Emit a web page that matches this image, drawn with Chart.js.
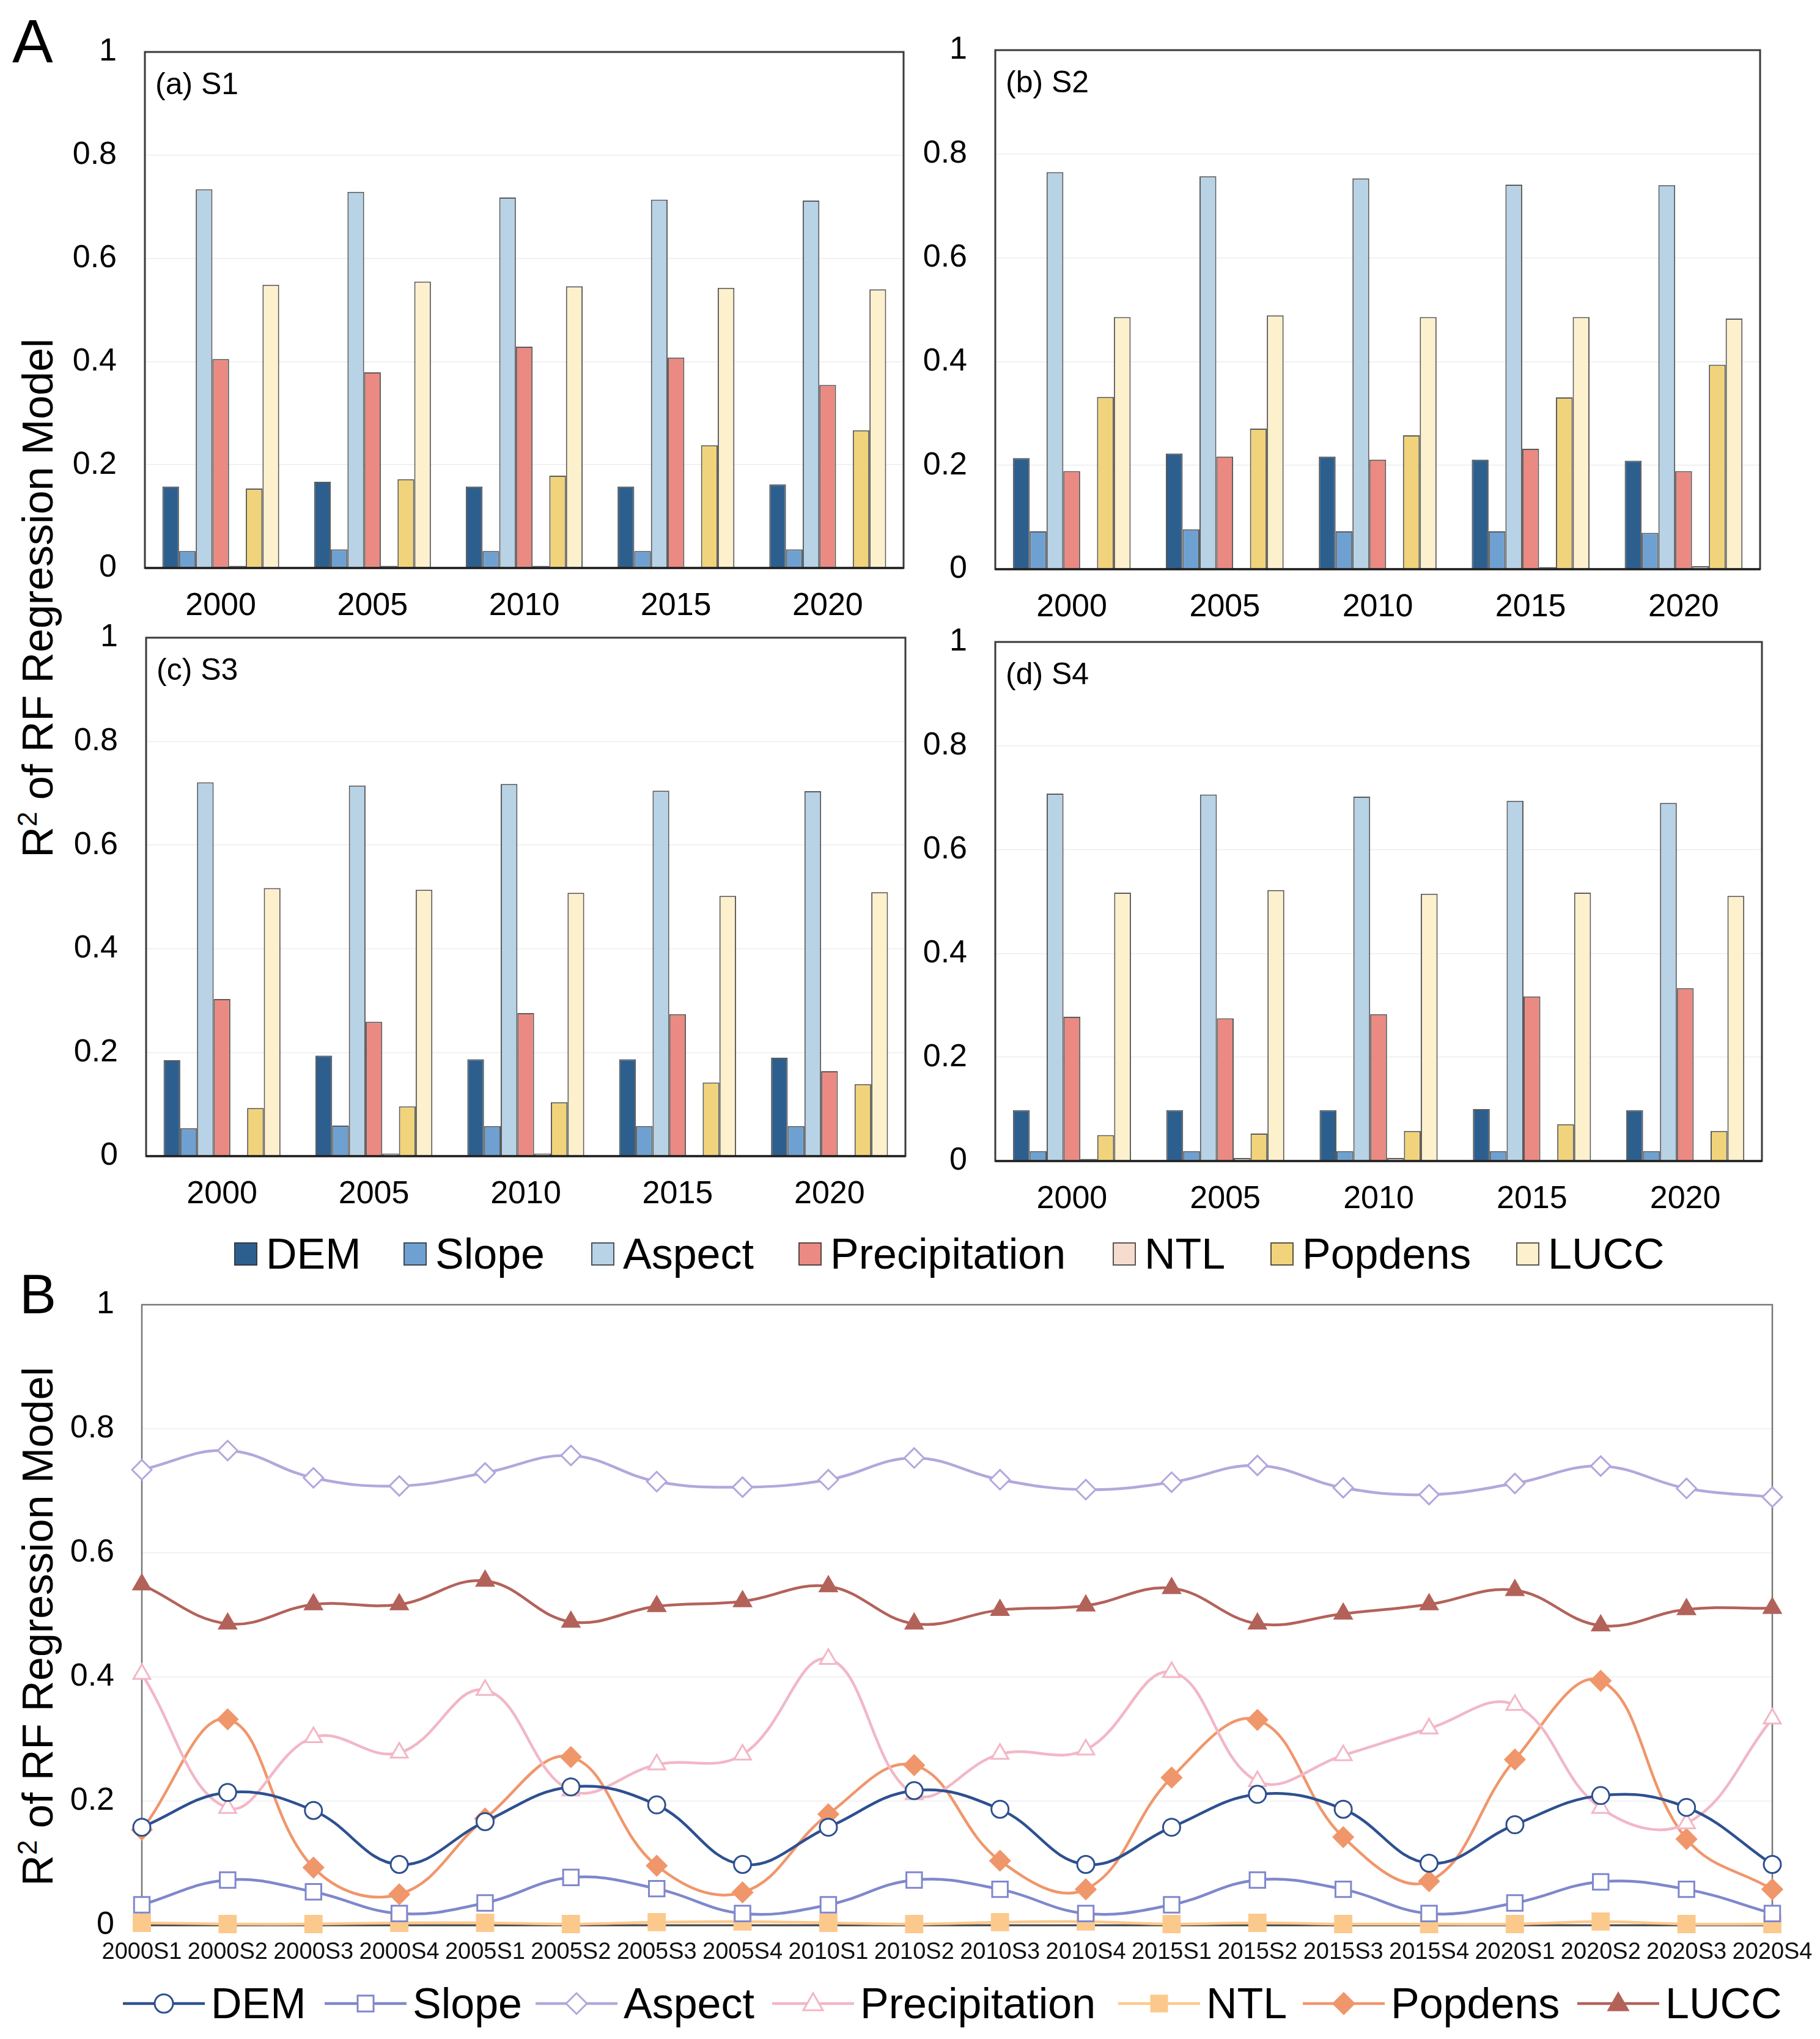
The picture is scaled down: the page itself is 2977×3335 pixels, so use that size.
<!DOCTYPE html>
<html>
<head>
<meta charset="utf-8">
<script src="https://cdn.jsdelivr.net/npm/chart.js@4.4.1/dist/chart.umd.min.js"></script>
<style>
html, body { margin: 0; padding: 0; background: #fff; }
body { width: 2977px; height: 3335px; position: relative; overflow: hidden;
       font-family: "Liberation Sans", Arial, sans-serif; color: #000; }
canvas { position: absolute; }
.txt { position: absolute; white-space: nowrap; line-height: 1; }
.ytitle { font-size: 70px; transform: translate(-50%, -50%) rotate(-90deg); }
.ytitle .sup { font-size: 44px; position: relative; top: -26px; }
.plabel { font-size: 50px; transform: translateY(-50%); }
.legA, .legB { position: absolute; display: flex; align-items: center; font-size: 70px;
               line-height: 1; white-space: nowrap; transform: translateY(-50%); }
.legA .box { width: 34px; height: 34px; border: 2px solid rgba(50,50,50,0.8); margin-right: 14px; }
.legB svg { margin-right: 10px; }
</style>
</head>
<body>

<div class="txt" style="left:20px; top:17px; font-size:100px;">A</div>
<div class="txt" style="left:32px; top:2072px; font-size:90px;">B</div>
<div class="txt ytitle" style="left:62px; top:978px;">R<span class="sup">2</span> of RF Regression Model</div>
<div class="txt ytitle" style="left:62px; top:2660px;">R<span class="sup">2</span> of RF Regression Model</div>

<canvas id="pa"></canvas>
<canvas id="pb"></canvas>
<canvas id="pc"></canvas>
<canvas id="pd"></canvas>
<canvas id="pB"></canvas>

<script>
// ---- data ----
const years = ['2000', '2005', '2010', '2015', '2020'];
const scenarios = ['S1', 'S2', 'S3', 'S4'];
const factors = ['DEM', 'Slope', 'Aspect', 'Precipitation', 'NTL', 'Popdens', 'LUCC'];
const yTicks = [0, 0.2, 0.4, 0.6, 0.8, 1];

// R2 per factor, one value per year
const S1 = {
    DEM:           [0.158, 0.167, 0.158, 0.158, 0.162],
    Slope:         [0.033, 0.036, 0.033, 0.033, 0.036],
    Aspect:        [0.734, 0.729, 0.718, 0.714, 0.712],
    Precipitation: [0.405, 0.379, 0.429, 0.408, 0.355],
    NTL:           [0.004, 0.004, 0.004, 0.002, 0.002],
    Popdens:       [0.154, 0.172, 0.179, 0.238, 0.267],
    LUCC:          [0.549, 0.555, 0.546, 0.543, 0.540]
};
const S2 = {
    DEM:           [0.214, 0.223, 0.217, 0.211, 0.209],
    Slope:         [0.073, 0.077, 0.073, 0.073, 0.070],
    Aspect:        [0.765, 0.757, 0.753, 0.741, 0.740],
    Precipitation: [0.189, 0.217, 0.211, 0.232, 0.189],
    NTL:           [0.002, 0.002, 0.002, 0.004, 0.006],
    Popdens:       [0.332, 0.271, 0.258, 0.331, 0.394],
    LUCC:          [0.486, 0.489, 0.486, 0.486, 0.483]
};
const S3 = {
    DEM:           [0.185, 0.194, 0.187, 0.187, 0.190],
    Slope:         [0.054, 0.059, 0.058, 0.058, 0.058],
    Aspect:        [0.721, 0.715, 0.718, 0.705, 0.704],
    Precipitation: [0.303, 0.259, 0.276, 0.274, 0.164],
    NTL:           [0.002, 0.005, 0.005, 0.002, 0.002],
    Popdens:       [0.093, 0.096, 0.104, 0.142, 0.139],
    LUCC:          [0.517, 0.514, 0.508, 0.502, 0.509]
};
const S4 = {
    DEM:           [0.098, 0.098, 0.098, 0.100, 0.098],
    Slope:         [0.019, 0.019, 0.019, 0.019, 0.019],
    Aspect:        [0.708, 0.706, 0.702, 0.694, 0.690],
    Precipitation: [0.278, 0.275, 0.283, 0.317, 0.333],
    NTL:           [0.004, 0.006, 0.006, 0.002, 0.002],
    Popdens:       [0.050, 0.053, 0.058, 0.071, 0.058],
    LUCC:          [0.517, 0.522, 0.515, 0.517, 0.511]
};
const scenarioData = [S1, S2, S3, S4];

// ---- styles ----
const FONT = '"Liberation Sans", Arial, sans-serif';
const barColors = ['#2d5f8e', '#6ea1d2', '#b8d2e6', '#ea8a82', '#f6dccf', '#f1d37b', '#fdf0cd'];
const barEdge = 'rgba(50,50,50,0.8)';
const lineColors = ['#2e5090', '#7f87cc', '#b4a7dc', '#f2b7c7', '#fcc98d', '#f0966b', '#b3625a'];
const lineMarkers = ['circle', 'rect', 'rectRot', 'triangle', 'rect', 'rectRot', 'triangle'];
const lineFilled = [false, false, false, false, true, true, true];
const markerSize = [14, 18, 16, 16, 19, 16, 16];

Chart.defaults.font.family = FONT;
Chart.defaults.color = '#000';

const framePlugin = {
    id: 'frame',
    beforeDatasetsDraw(chart, args, opts) {
        if (opts.layer === 'under') drawFrame(chart, opts);
    },
    afterDatasetsDraw(chart, args, opts) {
        if (opts.layer !== 'under') drawFrame(chart, opts);
    }
};

function drawFrame(chart, opts) {
    const ctx = chart.ctx;
    const a = chart.chartArea;
    ctx.save();
    ctx.strokeStyle = opts.color;
    ctx.lineWidth = opts.width;
    ctx.strokeRect(a.left, a.top, a.right - a.left, a.bottom - a.top);
    ctx.strokeStyle = opts.axisColor;
    ctx.lineWidth = opts.axisWidth;
    ctx.beginPath();
    ctx.moveTo(a.left, a.bottom);
    ctx.lineTo(a.right, a.bottom);
    ctx.stroke();
    ctx.restore();
}

// canvas placed so that the chart area lands on box
// (every side needs more room than the tick label overflow + tick padding)
function placeCanvas(id, box, pad) {
    const c = document.getElementById(id);
    const w = pad.yw + (box.r - box.l) + pad.right;
    const h = pad.top + (box.b - box.t) + pad.xh;
    c.width = w;
    c.height = h;
    c.style.left = (box.l - pad.yw) + 'px';
    c.style.top = (box.t - pad.top) + 'px';
    c.style.width = w + 'px';
    c.style.height = h + 'px';
    return c;
}

function yScale(pad, fontSize, tickPad) {
    return {
        min: 0, max: 1,
        afterBuildTicks: s => { s.ticks = yTicks.map(v => ({ value: v })); },
        grid: { color: '#ededed', lineWidth: 1.5, drawTicks: false },
        border: { display: false },
        ticks: { font: { size: fontSize }, color: '#000', padding: tickPad,
                 callback: v => String(+(+v).toFixed(1)) },
        afterFit: s => { s.width = pad.yw; }
    };
}

function barPanel(id, box, S, label) {
    const pad = { yw: 130, top: 85, right: 20, xh: 110 };
    const c = placeCanvas(id, box, pad);
    new Chart(c, {
        type: 'bar',
        data: {
            labels: years,
            datasets: factors.map((f, k) => ({
                label: f,
                data: S[f],
                backgroundColor: barColors[k],
                borderColor: barEdge,
                borderWidth: 2
            }))
        },
        options: {
            responsive: false, animation: false, devicePixelRatio: 1,
            layout: { padding: { top: pad.top, right: pad.right, left: 0, bottom: 0 } },
            datasets: { bar: { categoryPercentage: 0.77, barPercentage: 1.0 } },
            plugins: {
                legend: { display: false }, tooltip: { enabled: false },
                frame: { color: '#3a3a3a', width: 3, axisColor: '#222', axisWidth: 3.5 }
            },
            scales: {
                x: {
                    grid: { display: false, drawTicks: false },
                    border: { display: false },
                    ticks: { font: { size: 52 }, color: '#000', padding: 31, maxRotation: 0 },
                    afterFit: s => { s.height = pad.xh; }
                },
                y: yScale(pad, 52, 46)
            }
        },
        plugins: [framePlugin]
    });
    const t = document.createElement('div');
    t.className = 'txt plabel';
    t.textContent = label;
    t.style.left = (box.l + 17) + 'px';
    t.style.top = (box.t + 52) + 'px';
    document.body.appendChild(t);
}

barPanel('pa', { l: 237, t: 85, r: 1478, b: 929 }, S1, '(a) S1');
barPanel('pb', { l: 1628, t: 82, r: 2879, b: 931 }, S2, '(b) S2');
barPanel('pc', { l: 239, t: 1043, r: 1481, b: 1891 }, S3, '(c) S3');
barPanel('pd', { l: 1628, t: 1050, r: 2882, b: 1899 }, S4, '(d) S4');

// ---- panel B: every scenario in sequence ----
const periodLabels = years.flatMap(y => scenarios.map(s => y + s));
function seriesOf(f) {
    return years.flatMap((y, i) => scenarioData.map(S => S[f][i]));
}

(function () {
    const box = { l: 232, t: 2134, r: 2899, b: 3149 };
    const pad = { yw: 130, top: 85, right: 100, xh: 85 };
    const c = placeCanvas('pB', box, pad);
    new Chart(c, {
        type: 'line',
        data: {
            labels: periodLabels,
            datasets: factors.map((f, k) => ({
                label: f,
                data: seriesOf(f),
                borderColor: lineColors[k],
                borderWidth: 4.5,
                tension: 0.4,
                clip: false,
                pointStyle: lineMarkers[k],
                pointRadius: markerSize[k],
                pointBorderWidth: 3,
                pointBorderColor: lineColors[k],
                pointBackgroundColor: lineFilled[k] ? lineColors[k] : '#fff'
            }))
        },
        options: {
            responsive: false, animation: false, devicePixelRatio: 1,
            layout: { padding: { top: pad.top, right: pad.right, left: 0, bottom: 0 } },
            plugins: {
                legend: { display: false }, tooltip: { enabled: false },
                frame: { layer: 'under', color: '#777', width: 2.5, axisColor: '#444', axisWidth: 3 }
            },
            scales: {
                x: {
                    offset: false,
                    grid: { display: false, drawTicks: false },
                    border: { display: false },
                    ticks: { font: { size: 38 }, color: '#111', padding: 22,
                             autoSkip: false, maxRotation: 0, minRotation: 0 },
                    afterFit: s => { s.height = pad.xh; }
                },
                y: yScale(pad, 52, 45)
            }
        },
        plugins: [framePlugin]
    });
})();

// ---- legends ----
const legendAX = [383, 660, 967, 1306, 1820, 2078, 2480];
factors.forEach((f, k) => {
    const d = document.createElement('div');
    d.className = 'legA';
    d.style.left = legendAX[k] + 'px';
    d.style.top = '2051px';
    d.innerHTML = '<span class="box" style="background:' + barColors[k] + '"></span><span>' + f + '</span>';
    document.body.appendChild(d);
});

function markerSvg(k) {
    const col = lineColors[k];
    const fill = lineFilled[k] ? col : '#fff';
    const cx = 67, cy = 22;
    let m = '';
    if (lineMarkers[k] === 'circle') {
        m = '<circle cx="' + cx + '" cy="' + cy + '" r="15" fill="' + fill + '" stroke="' + col + '" stroke-width="3"/>';
    } else if (lineMarkers[k] === 'rect') {
        m = '<rect x="' + (cx - 13) + '" y="' + (cy - 13) + '" width="26" height="26" fill="' + fill + '" stroke="' + col + '" stroke-width="3"/>';
    } else if (lineMarkers[k] === 'rectRot') {
        m = '<polygon points="' + cx + ',' + (cy - 17) + ' ' + (cx + 17) + ',' + cy + ' ' + cx + ',' + (cy + 17) + ' ' + (cx - 17) + ',' + cy + '" fill="' + fill + '" stroke="' + col + '" stroke-width="3"/>';
    } else {
        m = '<polygon points="' + cx + ',' + (cy - 17) + ' ' + (cx + 16) + ',' + (cy + 11) + ' ' + (cx - 16) + ',' + (cy + 11) + '" fill="' + fill + '" stroke="' + col + '" stroke-width="3"/>';
    }
    return '<svg width="134" height="44" viewBox="0 0 134 44">' +
        '<line x1="0" y1="' + cy + '" x2="134" y2="' + cy + '" stroke="' + col + '" stroke-width="4.5"/>' + m + '</svg>';
}

const legendBX = [201, 531, 876, 1263, 1829, 2131, 2580];
factors.forEach((f, k) => {
    const d = document.createElement('div');
    d.className = 'legB';
    d.style.left = legendBX[k] + 'px';
    d.style.top = '3277px';
    d.innerHTML = markerSvg(k) + '<span>' + f + '</span>';
    document.body.appendChild(d);
});
</script>
</body>
</html>
